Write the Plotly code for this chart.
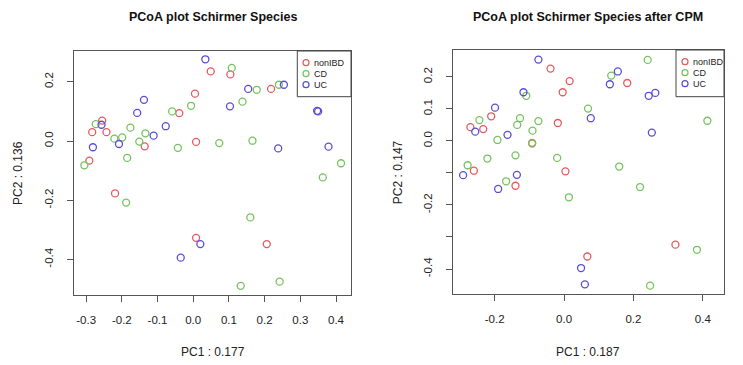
import plotly.graph_objects as go

groups = ["nonIBD", "CD", "UC"]
colors = ["#E45A5E", "#74C35C", "#5A4CD8"]

# Left plot: PCoA plot Schirmer Species
left_nonibd_x = [0.049, 0.104, 0.005, -0.039, -0.255, -0.283, -0.243, -0.136, 0.008, -0.291, 0.218, -0.219, 0.008, 0.206]
left_nonibd_y = [0.235, 0.225, 0.160, 0.094, 0.069, 0.030, 0.030, -0.018, -0.003, -0.066, 0.176, -0.177, -0.327, -0.348]
left_cd_x = [0.108, 0.178, -0.006, 0.138, -0.059, -0.273, -0.176, -0.134, -0.221, -0.199, -0.151, -0.043, 0.073, 0.166, -0.185, -0.305, 0.240, 0.414, 0.363, -0.188, 0.160, 0.133, 0.242]
left_cd_y = [0.247, 0.173, 0.119, 0.133, 0.100, 0.057, 0.045, 0.026, 0.008, 0.012, -0.002, -0.023, -0.007, 0.001, -0.057, -0.082, 0.190, -0.075, -0.123, -0.208, -0.258, -0.489, -0.475]
left_uc_x = [0.034, 0.154, -0.138, 0.103, -0.157, -0.257, -0.077, -0.111, -0.208, -0.281, 0.254, 0.347, 0.350, 0.238, 0.379, 0.020, -0.035]
left_uc_y = [0.276, 0.176, 0.139, 0.117, 0.095, 0.055, 0.050, 0.018, -0.010, -0.021, 0.190, 0.102, 0.100, -0.025, -0.019, -0.348, -0.394]

# Right plot: after CPM
right_nonibd_x = [-0.039, 0.016, -0.004, -0.210, -0.018, -0.270, -0.233, -0.092, 0.004, -0.260, -0.140, 0.182, 0.067, 0.321]
right_nonibd_y = [0.226, 0.187, 0.152, 0.077, 0.056, 0.043, 0.037, -0.006, -0.095, -0.093, -0.140, 0.181, -0.361, -0.324]
right_cd_x = [-0.109, 0.069, -0.244, -0.127, -0.135, -0.074, -0.091, -0.192, -0.092, -0.221, -0.140, -0.020, -0.278, -0.167, 0.014, 0.241, 0.136, 0.413, 0.159, 0.219, 0.383, 0.248]
right_cd_y = [0.141, 0.101, 0.065, 0.071, 0.050, 0.062, 0.032, 0.003, -0.008, -0.055, -0.045, -0.053, -0.076, -0.126, -0.176, 0.253, 0.204, 0.063, -0.080, -0.144, -0.340, -0.452]
right_uc_x = [-0.074, -0.117, 0.077, -0.199, -0.256, -0.163, -0.291, -0.136, -0.190, 0.049, 0.060, 0.155, 0.132, 0.244, 0.263, 0.253]
right_uc_y = [0.254, 0.152, 0.071, 0.104, 0.029, 0.019, -0.107, -0.106, -0.150, -0.397, -0.448, 0.217, 0.177, 0.141, 0.150, 0.026]

titles = ["PCoA plot Schirmer Species", "PCoA plot Schirmer Species after CPM"]
xlabels = ["PC1 : 0.177", "PC1 : 0.187"]
ylabels = ["PC2 : 0.136", "PC2 : 0.147"]

left_xticks = [-0.3, -0.2, -0.1, 0.0, 0.1, 0.2, 0.3, 0.4]
left_yticks = [-0.4, -0.2, 0.0, 0.2]
right_xticks = [-0.2, 0.0, 0.2, 0.4]
right_yticks = [-0.4, -0.3, -0.2, -0.1, 0.0, 0.1, 0.2]
right_ytext = ["-0.4", "", "-0.2", "", "0.0", "0.1", "0.2"]

W, H = 743, 365
FONT = "Liberation Sans, Arial, sans-serif"

fig = go.Figure()
series = [
    ([left_nonibd_x, left_cd_x, left_uc_x], [left_nonibd_y, left_cd_y, left_uc_y], "x", "y"),
    ([right_nonibd_x, right_cd_x, right_uc_x], [right_nonibd_y, right_cd_y, right_uc_y], "x2", "y2"),
]
for xs, ys, xa, ya in series:
    for g, c, xv, yv in zip(groups, colors, xs, ys):
        fig.add_trace(go.Scatter(
            x=xv, y=yv, mode="markers", name=g, xaxis=xa, yaxis=ya, showlegend=False,
            marker=dict(symbol="circle-open", size=7, color=c, line=dict(width=1.3, color=c)),
        ))

# plot boxes in pixels
boxes = [(74, 351, 51, 295), (452.7, 724, 50, 294.3)]
doms = []
for (l, r, t, b) in boxes:
    doms.append(([l / W, r / W], [1 - b / H, 1 - t / H]))

axcommon = dict(showgrid=False, zeroline=False, showline=True, mirror=True,
                linecolor="#555555", linewidth=1, ticks="outside", ticklen=6,
                tickcolor="#555555", tickfont=dict(family=FONT, size=11.5, color="#222222"))

fig.update_layout(
    width=W, height=H, margin=dict(l=0, r=0, t=0, b=0),
    paper_bgcolor="white", plot_bgcolor="white", showlegend=False,
    font=dict(family=FONT, color="#222222"),
    xaxis=dict(domain=doms[0][0], range=[-0.334, 0.442], tickvals=left_xticks,
               ticktext=["%.1f" % v for v in left_xticks], anchor="y",
               ticklabelstandoff=8, **axcommon),
    yaxis=dict(domain=doms[0][1], range=[-0.520, 0.304], tickvals=left_yticks,
               ticktext=["%.1f" % v for v in left_yticks], anchor="x", tickangle=-90,
               ticklabelstandoff=9, **axcommon),
    xaxis2=dict(domain=doms[1][0], range=[-0.321, 0.461], tickvals=right_xticks,
                ticktext=["%.1f" % v for v in right_xticks], anchor="y2",
                ticklabelstandoff=8, **axcommon),
    yaxis2=dict(domain=doms[1][1], range=[-0.479, 0.284], tickvals=right_yticks,
                ticktext=right_ytext, anchor="x2", tickangle=-90,
                ticklabelstandoff=9, **axcommon),
)

ann = []
shapes = []
ylab_x = [18, 398]
for i, (l, r, t, b) in enumerate(boxes):
    cx = (l + r) / 2 / W
    ann.append(dict(text="<b>%s</b>" % titles[i], x=cx, y=1 - 17 / H, xref="paper", yref="paper",
                    showarrow=False, xanchor="center", yanchor="middle",
                    font=dict(family=FONT, size=12.5, color="#111111")))
    ann.append(dict(text=xlabels[i], x=cx, y=1 - 352 / H, xref="paper", yref="paper",
                    showarrow=False, xanchor="center", yanchor="middle",
                    font=dict(family=FONT, size=12, color="#222222")))
    ann.append(dict(text=ylabels[i], x=ylab_x[i] / W, y=1 - (t + b) / 2 / H, xref="paper", yref="paper",
                    showarrow=False, xanchor="center", yanchor="middle", textangle=-90,
                    font=dict(family=FONT, size=12, color="#222222")))

# legends (drawn in paper pixels)
legends = [(297.3, 351, 51, 96.7, 306), (676, 724, 50, 96.7, 685)]
for (l, r, t, b, mx) in legends:
    shapes.append(dict(type="rect", xref="paper", yref="paper", x0=l / W, x1=r / W,
                       y0=1 - b / H, y1=1 - t / H, line=dict(color="#444444", width=1),
                       fillcolor="white", layer="above"))
    for k, (g, c) in enumerate(zip(groups, colors)):
        yc = t + 11.7 + 11 * k
        rad = 3
        shapes.append(dict(type="circle", xref="paper", yref="paper",
                           x0=(mx - rad) / W, x1=(mx + rad) / W,
                           y0=1 - (yc + rad) / H, y1=1 - (yc - rad) / H,
                           line=dict(color=c, width=1.2), layer="above"))
        ann.append(dict(text=g, x=(mx + 6) / W, y=1 - yc / H, xref="paper", yref="paper",
                        showarrow=False, xanchor="left", yanchor="middle",
                        font=dict(family=FONT, size=9, color="#222222")))

fig.update_layout(annotations=ann, shapes=shapes)
fig.write_html("out.html")
